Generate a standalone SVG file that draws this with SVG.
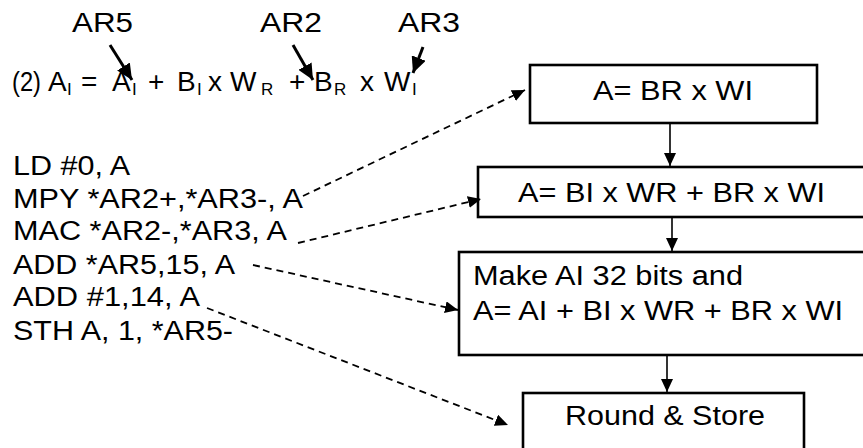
<svg xmlns="http://www.w3.org/2000/svg" width="863" height="448" viewBox="0 0 863 448">
<style>
text{font-family:"Liberation Sans",Arial,sans-serif;fill:#000}
.t{font-size:27px}
.e{font-size:28px}
.s{font-size:17px}
.box{fill:#fff;stroke:#000;stroke-width:2.6}
.dash{fill:none;stroke:#000;stroke-width:1.8;stroke-dasharray:7 5}
.solid{fill:none;stroke:#000;stroke-width:1.6}
.big{fill:none;stroke:#000;stroke-width:3}
</style>
<defs>
<marker id="ah" markerUnits="userSpaceOnUse" markerWidth="13" markerHeight="12" refX="13" refY="6" orient="auto" viewBox="0 0 13 12"><path d="M0,0 L13,6 L0,12 z" fill="#000"/></marker>
<marker id="bh" markerUnits="userSpaceOnUse" markerWidth="16" markerHeight="15" refX="16" refY="7.5" orient="auto" viewBox="0 0 16 15"><path d="M0,0 L16,7.5 L0,15 z" fill="#000"/></marker>
</defs>
<g id="labels">
<text class="t" x="72" y="32" textLength="61" lengthAdjust="spacingAndGlyphs">AR5</text>
<text class="t" x="260" y="32" textLength="62" lengthAdjust="spacingAndGlyphs">AR2</text>
<text class="t" x="398" y="32" textLength="62" lengthAdjust="spacingAndGlyphs">AR3</text>
</g>
<g id="equation">
<text class="e" x="12" y="91" textLength="29" lengthAdjust="spacingAndGlyphs">(2)</text>
<text class="e" y="91"><tspan x="48">A</tspan><tspan x="81">=</tspan><tspan x="112">A</tspan><tspan x="148">+</tspan><tspan x="177">B</tspan><tspan x="208">x</tspan><tspan x="230">W</tspan><tspan x="289">+</tspan><tspan x="314">B</tspan><tspan x="360">x</tspan><tspan x="384">W</tspan></text>
<text class="s" y="95"><tspan x="67">I</tspan><tspan x="132">I</tspan><tspan x="197">I</tspan><tspan x="261">R</tspan><tspan x="334">R</tspan><tspan x="412">I</tspan></text>
</g>
<g id="code">
<text class="t" x="13" y="175" textLength="117" lengthAdjust="spacingAndGlyphs">LD #0, A</text>
<text class="t" x="13" y="208" textLength="290" lengthAdjust="spacingAndGlyphs">MPY *AR2+,*AR3-, A</text>
<text class="t" x="13" y="240" textLength="274" lengthAdjust="spacingAndGlyphs">MAC *AR2-,*AR3, A</text>
<text class="t" x="13" y="274" textLength="222" lengthAdjust="spacingAndGlyphs">ADD *AR5,15, A</text>
<text class="t" x="13" y="306" textLength="187" lengthAdjust="spacingAndGlyphs">ADD #1,14, A</text>
<text class="t" x="13" y="340" textLength="220" lengthAdjust="spacingAndGlyphs">STH A, 1, *AR5-</text>
</g>
<g id="node1">
<rect class="box" x="530" y="65" width="287" height="58"/>
<text class="t" x="593" y="100" textLength="160" lengthAdjust="spacingAndGlyphs">A= BR x WI</text>
</g>
<g id="node2">
<rect class="box" x="478" y="167" width="400" height="50"/>
<text class="t" x="518" y="202" textLength="307" lengthAdjust="spacingAndGlyphs">A= BI x WR + BR x WI</text>
</g>
<g id="node3">
<rect class="box" x="459" y="252" width="420" height="103"/>
<text class="t" x="473" y="285" textLength="270" lengthAdjust="spacingAndGlyphs">Make AI 32 bits and</text>
<text class="t" x="473" y="320" textLength="370" lengthAdjust="spacingAndGlyphs">A= AI + BI x WR + BR x WI</text>
</g>
<g id="node4">
<rect class="box" x="523" y="393" width="281" height="70"/>
<text class="t" x="565" y="425" textLength="200" lengthAdjust="spacingAndGlyphs">Round &amp; Store</text>
</g>
<g id="connectors">
<line class="big" x1="110" y1="45" x2="132" y2="80" marker-end="url(#bh)"/>
<line class="big" x1="293" y1="45" x2="313" y2="80" marker-end="url(#bh)"/>
<line class="big" x1="423" y1="47" x2="413" y2="73" marker-end="url(#bh)"/>
<line class="dash" x1="303" y1="196" x2="525" y2="90" marker-end="url(#ah)"/>
<line class="dash" x1="298" y1="243" x2="481" y2="199" marker-end="url(#ah)"/>
<line class="dash" x1="253" y1="265" x2="458" y2="310" marker-end="url(#ah)"/>
<line class="dash" x1="207" y1="308" x2="508" y2="425" marker-end="url(#ah)"/>
<line class="solid" x1="670" y1="123" x2="670" y2="166" marker-end="url(#ah)"/>
<line class="solid" x1="672" y1="217" x2="672" y2="251" marker-end="url(#ah)"/>
<line class="solid" x1="667" y1="355" x2="667" y2="392" marker-end="url(#ah)"/>
</g>
</svg>
